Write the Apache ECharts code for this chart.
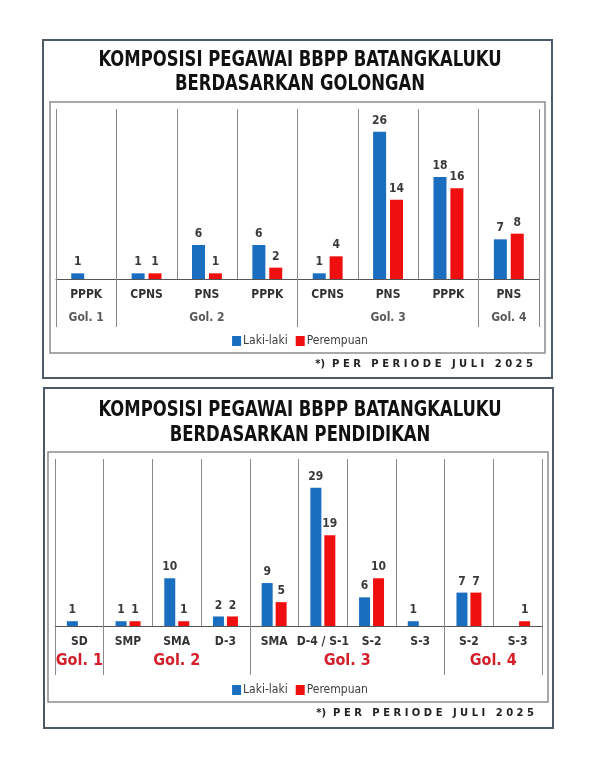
<!DOCTYPE html>
<html>
<head>
<meta charset="utf-8">
<script src="https://cdn.jsdelivr.net/npm/echarts@6/dist/echarts.min.js"></script>
<style>
html,body{margin:0;padding:0;background:#fff;}
#c{width:600px;height:776px;}
</style>
</head>
<body>
<div id="c"></div>
<script>
// ---- Chart 1: Golongan ----
var cats1 = ['PPPK', 'CPNS', 'PNS', 'PPPK', 'CPNS', 'PNS', 'PPPK', 'PNS'];
var male1 = [1, 1, 6, 6, 1, 26, 18, 7];
var female1 = [null, 1, 1, 2, 4, 14, 16, 8];
var groups1 = ['Gol. 1', 'Gol. 2', 'Gol. 3', 'Gol. 4'];
var groupBounds1 = [0, 1, 4, 7, 8];
var groupCenters1 = [0.5, 2.5, 5.5, 7.5];

// ---- Chart 2: Pendidikan ----
var cats2 = ['SD', 'SMP', 'SMA', 'D-3', 'SMA', 'D-4 / S-1', 'S-2', 'S-3', 'S-2', 'S-3'];
var male2 = [1, 1, 10, 2, 9, 29, 6, 1, 7, null];
var female2 = [null, 1, 1, 2, 5, 19, 10, null, 7, 1];
var groups2 = ['Gol. 1', 'Gol. 2', 'Gol. 3', 'Gol. 4'];
var groupBounds2 = [0, 1, 4, 8, 10];
var groupCenters2 = [0.5, 2.5, 6, 9];

var seriesNames = ['Laki-laki', 'Perempuan'];
var title1Lines = ['KOMPOSISI PEGAWAI BBPP BATANGKALUKU', 'BERDASARKAN GOLONGAN'];
var title2Lines = ['KOMPOSISI PEGAWAI BBPP BATANGKALUKU', 'BERDASARKAN PENDIDIKAN'];
var footnote = '*)  P E R   P E R I O D E   J U L I   2 0 2 5';

var FONT = '"DejaVu Sans Condensed", "DejaVu Sans", sans-serif';
var BLUE = '#1a6ec0';
var RED = '#f00f0f';

function groupFormatter(centers, names) {
  return function (v) {
    for (var i = 0; i < centers.length; i++) {
      if (Math.abs(centers[i] - v) < 1e-6) return names[i];
    }
    return '';
  };
}

function catAxis(grid, data, fs) {
  return {
    type: 'category', gridIndex: grid, data: data, position: 'bottom',
    axisLine: { show: true, lineStyle: { color: '#555', width: 1 } },
    axisTick: { show: false },
    axisLabel: { interval: 0, margin: 10, fontFamily: FONT, fontWeight: 'bold', fontSize: fs, color: '#333' },
    splitLine: { show: true, interval: 0, lineStyle: { color: '#8a8a8a', width: 1 } }
  };
}

function groupAxis(grid, max, bounds, centers, names, tickLen, margin, lblStyle) {
  return {
    type: 'value', gridIndex: grid, min: 0, max: max, position: 'bottom',
    axisLine: { show: false },
    splitLine: { show: false },
    axisTick: { show: true, customValues: bounds, length: tickLen, lineStyle: { color: '#8a8a8a', width: 1 } },
    axisLabel: Object.assign({ show: true, customValues: centers, margin: margin, formatter: groupFormatter(centers, names), fontFamily: FONT }, lblStyle)
  };
}

function barSeries(name, data, xi, yi, color, width, gap) {
  return {
    name: name, type: 'bar', xAxisIndex: xi, yAxisIndex: yi, data: data,
    barWidth: width, barGap: gap,
    itemStyle: { color: color },
    label: { show: true, position: 'top', distance: 5, fontFamily: FONT, fontWeight: 'bold', fontSize: 12, color: '#3a3a3a' }
  };
}

function titleText(str, y) {
  return {
    type: 'text', x: 300, y: y, scaleX: 0.87, z: 10,
    style: { text: str, align: 'center', verticalAlign: 'middle', fontFamily: FONT, fontWeight: 'bold', fontSize: 21, fill: '#111' }
  };
}

var chart = echarts.init(document.getElementById('c'), null, { renderer: 'canvas' });
chart.setOption({
  backgroundColor: '#ffffff',
  animation: false,
  legend: [
    { data: seriesNames, left: 'center', top: 330, icon: 'rect', itemWidth: 9, itemHeight: 10, itemGap: 8,
      textStyle: { fontFamily: FONT, fontSize: 12, color: '#404040', padding: [0, 0, 0, -3] } },
    { data: seriesNames, left: 'center', top: 679, icon: 'rect', itemWidth: 9, itemHeight: 10, itemGap: 8,
      textStyle: { fontFamily: FONT, fontSize: 12, color: '#404040', padding: [0, 0, 0, -3] } }
  ],
  grid: [
    { left: 56, right: 61, top: 109, height: 170, containLabel: false },
    { left: 55, right: 58, top: 459, height: 167, containLabel: false }
  ],
  xAxis: [
    catAxis(0, cats1, 12),
    groupAxis(0, cats1.length, groupBounds1, groupCenters1, groups1, 48, 33,
      { fontSize: 12, fontWeight: 'bold', color: '#5a5a5a' }),
    catAxis(1, cats2, 12),
    groupAxis(1, cats2.length, groupBounds2, groupCenters2, groups2, 49, 27,
      { fontSize: 16, fontWeight: 'bold', color: '#d41f2a' })
  ],
  yAxis: [
    { type: 'value', gridIndex: 0, min: 0, max: 30, show: false },
    { type: 'value', gridIndex: 1, min: 0, max: 35, show: false }
  ],
  graphic: [
    { type: 'rect', shape: { x: 43, y: 40, width: 509, height: 338 }, style: { fill: 'none', stroke: '#4d5a66', lineWidth: 2 }, z: 0 },
    { type: 'rect', shape: { x: 50, y: 102, width: 495, height: 251 }, style: { fill: 'none', stroke: '#8c8c8c', lineWidth: 1.5 }, z: 0 },
    { type: 'rect', shape: { x: 44, y: 388, width: 509, height: 340 }, style: { fill: 'none', stroke: '#4d5a66', lineWidth: 2 }, z: 0 },
    { type: 'rect', shape: { x: 48, y: 452, width: 500, height: 250 }, style: { fill: 'none', stroke: '#8c8c8c', lineWidth: 1.5 }, z: 0 },
    titleText(title1Lines[0], 61),
    titleText(title1Lines[1], 85),
    titleText(title2Lines[0], 411),
    titleText(title2Lines[1], 436),
    { type: 'text', right: 67, top: 359, style: { text: footnote, fontFamily: '"DejaVu Sans", sans-serif', fontWeight: 'bold', fontSize: 10, fill: '#222' } },
    { type: 'text', right: 66, top: 708, style: { text: footnote, fontFamily: '"DejaVu Sans", sans-serif', fontWeight: 'bold', fontSize: 10, fill: '#222' } }
  ],
  series: [
    barSeries(seriesNames[0], male1, 0, 0, BLUE, 13, '30%'),
    barSeries(seriesNames[1], female1, 0, 0, RED, 13, '30%'),
    barSeries(seriesNames[0], male2, 2, 1, BLUE, 11, '27%'),
    barSeries(seriesNames[1], female2, 2, 1, RED, 11, '27%')
  ]
});
</script>
</body>
</html>
